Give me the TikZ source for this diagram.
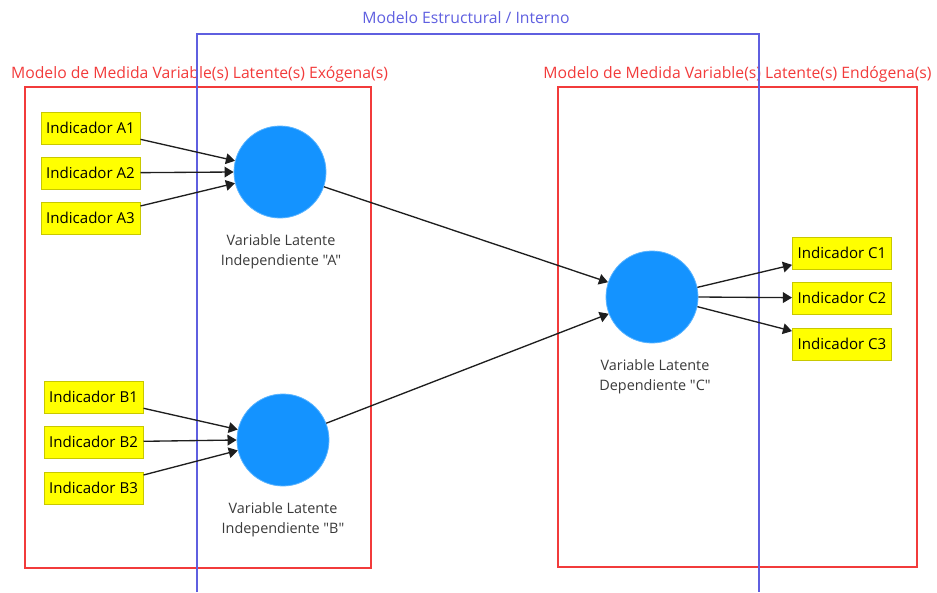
\documentclass[tikz,border=0pt]{standalone}
\usepackage{fontspec}
\setmainfont{Open Sans}[Ligatures=TeXOff]
\usetikzlibrary{arrows.meta}
\definecolor{latblue}{HTML}{1493FF}
\definecolor{latedge}{HTML}{5AB4FF}
\definecolor{indfill}{HTML}{FFFF00}
\definecolor{indedge}{HTML}{C8C800}
\definecolor{mmred}{HTML}{F23B3B}
\definecolor{smblue}{HTML}{5F5FE0}
\definecolor{captext}{HTML}{3A3A3A}
\definecolor{linkcol}{HTML}{1E1E1E}
\begin{document}
\begin{tikzpicture}[x=0.75pt,y=-0.75pt,
  indicator/.style={draw=indedge,fill=indfill,line width=0.75pt,
    minimum width=74.25pt,minimum height=24pt,inner sep=0pt,
    font=\fontsize{11.3}{13}\selectfont,text=black},
  latent/.style={circle,fill=latblue,draw=latedge,line width=0.6pt,
    minimum size=69pt,inner sep=0pt},
  caption/.style={align=center,text=captext,
    font=\fontsize{10.8}{15}\selectfont},
  frame/.style={line width=1.1pt},
  framelabel/.style={font=\fontsize{11.8}{13}\selectfont,inner sep=0pt},
  link/.style={draw=linkcol,line width=1pt,
    -{Triangle[length=6.8pt,width=8pt]}}]
\useasboundingbox (0,0) rectangle (937,592);

% measurement-model frames
\draw[frame,mmred] (25,87) rectangle (371,568);
\draw[frame,mmred] (558,87) rectangle (917,567);
\node[framelabel,text=mmred] (lblexo) at (199.5,74)
  {Modelo de Medida Variable(s) Latente(s) Exógena(s)};
\node[framelabel,text=mmred] (lblendo) at (737.5,74)
  {Modelo de Medida Variable(s) Latente(s) Endógena(s)};

% structural model frame, open at the bottom
\draw[frame,smblue] (197,592) -- (197,34) -- (759,34) -- (759,592);
\node[framelabel,text=smblue] (lblstruct) at (466,18)
  {Modelo Estructural / Interno};

% latent variables
\node[latent] (A) at (280,172) {};
\node[latent] (B) at (283,440) {};
\node[latent] (C) at (652,297) {};
\node[caption] (capA) at (281,252) {Variable Latente\\Independiente "A"};
\node[caption] (capB) at (283,520) {Variable Latente\\Independiente "B"};
\node[caption] (capC) at (655,377) {Variable Latente\\Dependiente "C"};

% indicators
\node[indicator] (A1) at (90.5,128) {Indicador A1};
\node[indicator] (A2) at (90.5,173) {Indicador A2};
\node[indicator] (A3) at (90.5,218) {Indicador A3};
\node[indicator] (B1) at (93.5,397) {Indicador B1};
\node[indicator] (B2) at (93.5,442) {Indicador B2};
\node[indicator] (B3) at (93.5,488) {Indicador B3};
\node[indicator] (C1) at (842,253) {Indicador C1};
\node[indicator] (C2) at (842,298) {Indicador C2};
\node[indicator] (C3) at (842,344) {Indicador C3};

% reflective indicators of A and B
\draw[link] (A1) -- (A.166);
\draw[link] (A2) -- (A.180);
\draw[link] (A3) -- (A.194);
\draw[link] (B1) -- (B.167);
\draw[link] (B2) -- (B.180);
\draw[link] (B3) -- (B.193);

% structural paths
\draw[link] (A) -- (C);
\draw[link] (B) -- (C);

% indicators of C
\draw[link] (C.12) -- (C1);
\draw[link] (C.0) -- (C2);
\draw[link] (C.-12) -- (C3);
\end{tikzpicture}
\end{document}
